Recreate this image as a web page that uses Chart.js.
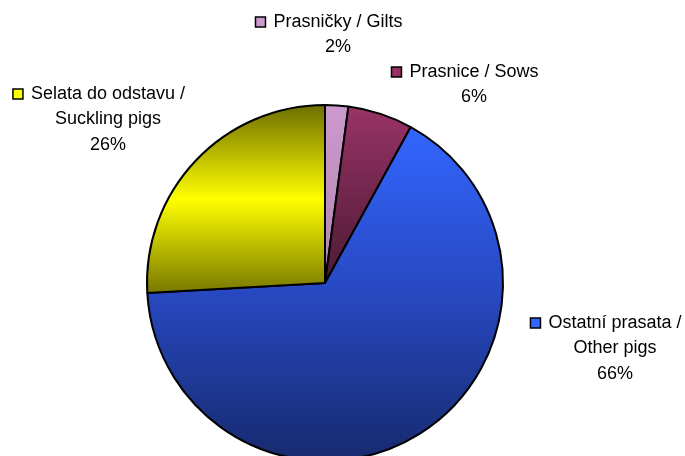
<!DOCTYPE html>
<html lang="cs">
<head>
    <meta charset="UTF-8">
    <title>Struktura stavu prasat</title>
    <script src="https://cdn.jsdelivr.net/npm/chart.js"></script>
    <style>
        html, body { margin: 0; padding: 0; background: #fff; overflow: hidden; }
        #wrap { position: relative; width: 685px; height: 566px; }
    </style>
</head>
<body>
    <div id="wrap"><canvas id="pigChart"></canvas></div>

    <script>
        // data (clockwise from 12 o'clock)
        var categories = [
            ['Prasničky / Gilts'],
            ['Prasnice / Sows'],
            ['Ostatní prasata /', 'Other pigs'],
            ['Selata do odstavu /', 'Suckling pigs']
        ];
        var shares = [2.1, 5.9, 66.1, 25.9];

        // styling
        var keyColors = ['#cc99cc', '#993366', '#3366ff', '#ffff00'];
        var sliceStops = [
            [[0, '#cc99cc'], [1, '#b286b2']],
            [[0, '#993366'], [1, '#4a1a33']],
            [[0, '#3366ff'], [0.5, '#2748c0'], [1, '#172a6e']],
            [[0, '#6e6e00'], [0.5, '#ffff00'], [1, '#787800']]
        ];
        // label block offsets from pie centre (centre of text lines, first line)
        var labelOffsets = [
            { x: 13, y: -261 },
            { x: 149, y: -211 },
            { x: 290, y: 40 },
            { x: -217, y: -189 }
        ];
        var lineGap = 25.5;

        var total = shares.reduce(function (a, b) { return a + b; }, 0);

        var gradientPlugin = {
            id: 'sliceGradients',
            beforeDatasetsDraw: function (chart) {
                var ctx = chart.ctx;
                chart.getDatasetMeta(0).data.forEach(function (arc, i) {
                    var p = arc.getProps(['x', 'y', 'startAngle', 'endAngle', 'outerRadius']);
                    var top = p.y, bottom = p.y;
                    for (var k = 0; k <= 60; k++) {
                        var a = p.startAngle + (p.endAngle - p.startAngle) * k / 60;
                        var y = p.y + Math.sin(a) * p.outerRadius;
                        top = Math.min(top, y);
                        bottom = Math.max(bottom, y);
                    }
                    var g = ctx.createLinearGradient(0, top, 0, bottom);
                    sliceStops[i].forEach(function (s) { g.addColorStop(s[0], s[1]); });
                    arc.options.backgroundColor = g;
                });
            }
        };

        var labelPlugin = {
            id: 'sliceLabels',
            afterDatasetsDraw: function (chart) {
                var ctx = chart.ctx;
                var meta = chart.getDatasetMeta(0);
                ctx.save();
                ctx.font = '18px "Liberation Sans", Arial, sans-serif';
                ctx.fillStyle = '#000';
                ctx.textAlign = 'center';
                ctx.textBaseline = 'middle';
                meta.data.forEach(function (arc, i) {
                    var cx = arc.x + labelOffsets[i].x;
                    var cy = arc.y + labelOffsets[i].y;
                    var lines = categories[i].concat([Math.round(shares[i] / total * 100) + '%']);
                    lines.forEach(function (t, j) {
                        ctx.fillText(t, cx, cy + j * lineGap);
                    });
                    // legend key in front of the first line
                    var w = ctx.measureText(lines[0]).width;
                    var kx = cx - w / 2 - 18;
                    ctx.fillStyle = keyColors[i];
                    ctx.fillRect(kx, cy - 5, 10, 10);
                    ctx.lineWidth = 1.5;
                    ctx.strokeStyle = '#000';
                    ctx.strokeRect(kx, cy - 5, 10, 10);
                    ctx.fillStyle = '#000';
                });
                ctx.restore();
            }
        };

        new Chart(document.getElementById('pigChart'), {
            type: 'pie',
            data: {
                labels: categories,
                datasets: [{
                    data: shares,
                    backgroundColor: keyColors,
                    borderColor: '#000',
                    borderWidth: 2,
                    radius: 178
                }]
            },
            options: {
                responsive: true,
                maintainAspectRatio: false,
                animation: false,
                layout: { padding: { right: 35 } },
                plugins: {
                    legend: { display: false },
                    tooltip: { enabled: false }
                }
            },
            plugins: [gradientPlugin, labelPlugin]
        });
    </script>
</body>
</html>
